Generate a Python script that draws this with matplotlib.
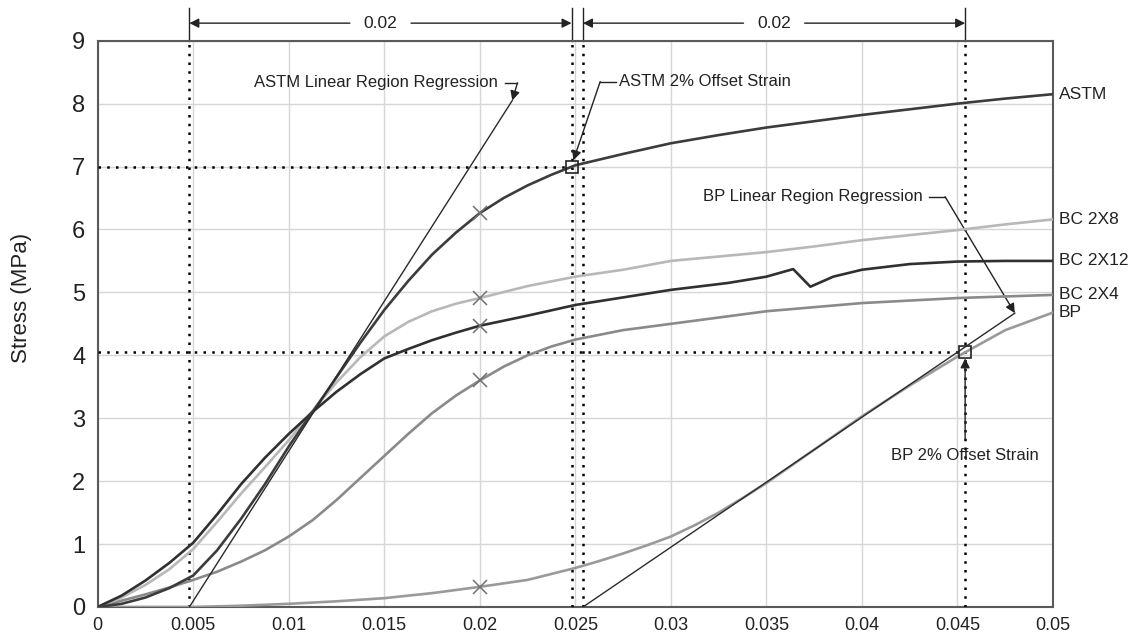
import numpy as np
import matplotlib
matplotlib.use('Agg')
from matplotlib import pyplot as plt
import matplotlib.transforms as mtransforms

plt.rcParams['font.family'] = ['Liberation Sans', 'DejaVu Sans']

# stress-strain readings (strain [-], stress [MPa])
astm_strain = [0, 0.00125, 0.0025, 0.00375, 0.005, 0.00625, 0.0075, 0.00875, 0.01, 0.01125,
               0.0125, 0.01375, 0.015, 0.01625, 0.0175, 0.01875, 0.02, 0.02125, 0.0225, 0.02375,
               0.025, 0.0275, 0.03, 0.0325, 0.035, 0.0375, 0.04, 0.0425, 0.045, 0.0475, 0.05]
astm_stress = [0, 0.05, 0.15, 0.3, 0.5, 0.9, 1.4, 1.95, 2.55, 3.1,
               3.65, 4.2, 4.72, 5.18, 5.6, 5.95, 6.26, 6.5, 6.7, 6.87,
               7.02, 7.2, 7.37, 7.5, 7.62, 7.72, 7.82, 7.91, 8.0, 8.08, 8.15]

bc2x8_strain = [0, 0.00125, 0.0025, 0.00375, 0.005, 0.00625, 0.0075, 0.00875, 0.01, 0.01125,
                0.0125, 0.01375, 0.015, 0.01625, 0.0175, 0.01875, 0.02, 0.0225, 0.025,
                0.0275, 0.03, 0.0325, 0.035, 0.0375, 0.04, 0.0425, 0.045, 0.0475, 0.05]
bc2x8_stress = [0, 0.15, 0.35, 0.6, 0.92, 1.35, 1.8, 2.22, 2.65, 3.12,
                3.57, 3.97, 4.3, 4.53, 4.7, 4.82, 4.91, 5.1, 5.25,
                5.36, 5.5, 5.57, 5.64, 5.73, 5.83, 5.91, 5.99, 6.08, 6.16]

bc2x12_strain = [0, 0.00125, 0.0025, 0.00375, 0.005, 0.00625, 0.0075, 0.00875, 0.01, 0.01125,
                 0.0125, 0.01375, 0.015, 0.01625, 0.0175, 0.01875, 0.02, 0.0225, 0.025,
                 0.0275, 0.03, 0.033, 0.035, 0.0364, 0.0373, 0.0385, 0.04, 0.0425, 0.045,
                 0.0475, 0.05]
bc2x12_stress = [0, 0.18, 0.42, 0.7, 1.02, 1.47, 1.95, 2.37, 2.75, 3.1,
                 3.42, 3.7, 3.95, 4.1, 4.24, 4.36, 4.47, 4.63, 4.8,
                 4.92, 5.04, 5.15, 5.25, 5.37, 5.09, 5.25, 5.36, 5.45, 5.49,
                 5.5, 5.5]

bc2x4_strain = [0, 0.00125, 0.0025, 0.00375, 0.005, 0.00625, 0.0075, 0.00875, 0.01, 0.01125,
                0.0125, 0.01375, 0.015, 0.01625, 0.0175, 0.01875, 0.02, 0.02125, 0.0225, 0.02375,
                0.025, 0.0275, 0.03, 0.035, 0.04, 0.045, 0.05]
bc2x4_stress = [0, 0.1, 0.2, 0.31, 0.43, 0.56, 0.72, 0.9, 1.12, 1.38,
                1.7, 2.05, 2.4, 2.75, 3.08, 3.36, 3.6, 3.82, 4.0, 4.14,
                4.25, 4.4, 4.5, 4.7, 4.83, 4.91, 4.96]

bp_strain = [0, 0.005, 0.0075, 0.01, 0.0125, 0.015, 0.0175, 0.02, 0.0225, 0.025, 0.02625,
             0.0275, 0.02875, 0.03, 0.03125, 0.0325, 0.03375, 0.035, 0.0375, 0.04, 0.0425,
             0.045, 0.0475, 0.05]
bp_stress = [0, 0.0, 0.02, 0.05, 0.09, 0.14, 0.22, 0.32, 0.43, 0.62, 0.73,
             0.85, 0.98, 1.12, 1.3, 1.5, 1.73, 1.97, 2.5, 3.03, 3.52,
             3.98, 4.4, 4.68]

# linear region regressions
astm_reg_strain = [0.0048, 0.0217]
astm_reg_stress = [0.0, 8.05]
bp_reg_strain = [0.0254, 0.0480]
bp_reg_stress = [0.0, 4.67]

# 2% offset results
intercept_strain = [0.0048, 0.0254]
offset_strain = [0.0248, 0.0454]
offset_stress = [7.0, 4.05]

x_ticks = [0, 0.005, 0.01, 0.015, 0.02, 0.025, 0.03, 0.035, 0.04, 0.045, 0.05]
x_tick_labels = ['0', '0.005', '0.01', '0.015', '0.02', '0.025', '0.03', '0.035', '0.04', '0.045', '0.05']
y_ticks = [0, 1, 2, 3, 4, 5, 6, 7, 8, 9]

series = [
    ('BP', bp_strain, bp_stress, '#9a9a9a'),
    ('BC 2X4', bc2x4_strain, bc2x4_stress, '#8a8a8a'),
    ('BC 2X8', bc2x8_strain, bc2x8_stress, '#b8b8b8'),
    ('BC 2X12', bc2x12_strain, bc2x12_stress, '#303030'),
    ('ASTM', astm_strain, astm_stress, '#3c3c3c'),
]

fig = plt.figure(figsize=(11.41, 6.32), dpi=100)
ax = fig.add_axes([0.0856, 0.0396, 0.8373, 0.8960])

ax.set_xlim(0, 0.05)
ax.set_ylim(0, 9)
ax.set_xticks(x_ticks)
ax.set_xticklabels(x_tick_labels, fontsize=13, color='#222222')
ax.set_yticks(y_ticks)
ax.set_yticklabels([str(v) for v in y_ticks], fontsize=17, color='#222222')
ax.tick_params(axis='x', length=0, pad=7)
ax.tick_params(axis='y', length=0, pad=9)
ax.grid(True, color='#d6d6d6', lw=1)
ax.set_axisbelow(True)
for sp in ax.spines.values():
    sp.set_color('#5a5a5a')
    sp.set_linewidth(1.5)

fig.text(22 / 1141, 1 - 298 / 632, 'Stress (MPa)', rotation=90, ha='center', va='center',
         fontsize=16, color='#222222')

dots = (0, (1, 2.5))
# dotted construction lines
for s in intercept_strain + offset_strain:
    ax.axvline(s, color='k', lw=1.8, ls=dots, zorder=3)
for s, v in zip(offset_strain, offset_stress):
    ax.plot([0, s], [v, v], color='k', lw=1.8, ls=dots, zorder=3)

# curves
for name, xs, ys, col in series:
    ax.plot(xs, ys, color=col, lw=1.9, zorder=4)
    i = xs.index(0.02)
    ax.plot(xs[i], ys[i], 'x', color='#707070', ms=10, mew=1.1, zorder=5)
    ax.text(0.0503, ys[-1], name, ha='left', va='center', fontsize=12.5, color='#222222', clip_on=False)

ax.plot(astm_reg_strain, astm_reg_stress, color='#2a2a2a', lw=1, zorder=5)
ax.plot(bp_reg_strain, bp_reg_stress, color='#2a2a2a', lw=1, zorder=5)

ax.plot(offset_strain, offset_stress, 's', ms=8.5, mfc='none', mec='#222222', mew=1.2, zorder=6)

# dimension lines at top
trans = mtransforms.blended_transform_factory(ax.transData, ax.transAxes)
for a, b in zip(intercept_strain, offset_strain):
    for s in (a, b):
        ax.plot([s, s], [1.0, 1.058], transform=trans, clip_on=False, color='#222222', lw=1)
    mid = (a + b) / 2
    gap = 0.0016
    for end, start in ((a, mid - gap), (b, mid + gap)):
        ax.annotate('', xy=(end, 1.031), xytext=(start, 1.031), xycoords=trans, textcoords=trans,
                    arrowprops=dict(arrowstyle='-|>', color='#222222', lw=1, shrinkA=0, shrinkB=0,
                                    mutation_scale=14))
    ax.text(mid, 1.031, '0.02', transform=trans, ha='center', va='center', fontsize=12.5,
            color='#222222')

arrow = dict(arrowstyle='-|>', color='#222222', lw=1, shrinkA=0, shrinkB=0, mutation_scale=14)
txt = dict(fontsize=12, color='#222222', va='center')

# ASTM linear region regression
ax.text(0.02093, 8.33, 'ASTM Linear Region Regression', ha='right', **txt)
ax.plot([0.02132, 0.02197], [8.33, 8.33], color='#222222', lw=1)
ax.annotate('', xy=(0.0217, 8.05), xytext=(0.02197, 8.33), arrowprops=arrow)

# ASTM 2% offset
ax.text(0.02726, 8.35, 'ASTM 2% Offset Strain', ha='left', **txt)
ax.plot([0.02630, 0.02712], [8.35, 8.35], color='#222222', lw=1)
ax.annotate('', xy=(0.0249, 7.1), xytext=(0.02630, 8.35), arrowprops=arrow)

# BP linear region regression
ax.text(0.04316, 6.52, 'BP Linear Region Regression', ha='right', **txt)
ax.plot([0.04351, 0.04435], [6.52, 6.52], color='#222222', lw=1)
ax.annotate('', xy=(0.0480, 4.67), xytext=(0.04435, 6.52), arrowprops=arrow)

# BP 2% offset
ax.text(0.04154, 2.40, 'BP 2% Offset Strain', ha='left', **txt)
ax.annotate('', xy=(0.0454, 3.95), xytext=(0.0454, 2.66), arrowprops=arrow)

plt.savefig('out.png', dpi=100)
plt.close()
